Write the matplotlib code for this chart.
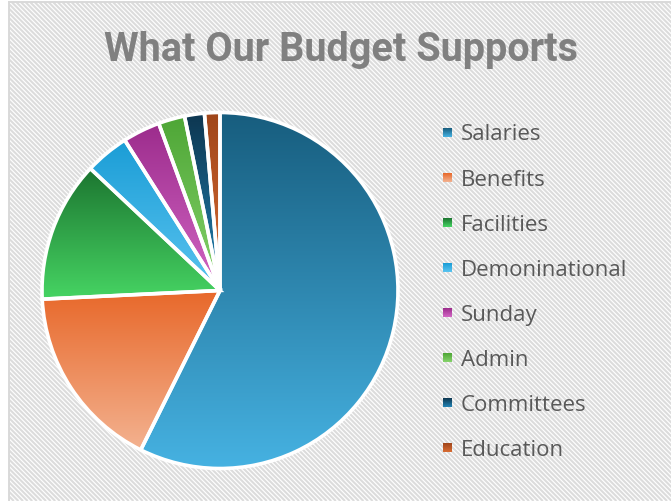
import numpy as np
import matplotlib
matplotlib.use("Agg")
import matplotlib.pyplot as plt
from matplotlib.collections import LineCollection
from matplotlib.patches import Rectangle
from matplotlib.colors import LinearSegmentedColormap

categories = ["Salaries", "Benefits", "Facilities", "Demoninational",
              "Sunday", "Admin", "Committees", "Education"]
values = [57.4, 16.9, 12.8, 4.0, 3.4, 2.4, 1.8, 1.4]
top_colors = ["#175d7e", "#e8682a", "#1c7530", "#1b9dd6", "#9c2c8c", "#4ea636", "#0d3650", "#a0461a"]
bottom_colors = ["#46b2e2", "#f3b290", "#46d463", "#5ac4f0", "#d266c4", "#86d36c", "#2284b5", "#d86c34"]
title = "What Our Budget Supports"

W, H, DPI = 671, 502, 100
fig = plt.figure(figsize=(W / DPI, H / DPI), dpi=DPI)
fig.patch.set_facecolor("white")

# background hatched frame
bg = fig.add_axes([0, 0, 1, 1])
bg.set_xlim(0, W)
bg.set_ylim(H, 0)
bg.axis("off")
x0f, y0f = 9, 3
segs = []
period = 4.6
c = -H
while c < W:
    ya, yb = y0f, H
    segs.append([(ya + c, ya), (yb + c, yb)])
    c += period
lc = LineCollection(segs, colors="#dcdcdc", linewidths=1.5)
bg.add_collection(lc)
clip = Rectangle((x0f, y0f), W - x0f + 5, H, transform=bg.transData, visible=False)
bg.add_patch(clip)
lc.set_clip_path(clip)
bg.plot([x0f, x0f], [y0f, H], color="#d9d9d9", lw=1.4)
bg.plot([x0f, W], [y0f, y0f], color="#d9d9d9", lw=1.4)

# pie
cx, cy, R = 220, 291.5, 178
ax = fig.add_axes([(cx - R * 1.02) / W, (H - cy - R * 1.02) / H, 2.04 * R / W, 2.04 * R / H])
wedges, _ = ax.pie(values, startangle=90, counterclock=False, radius=1,
                   wedgeprops=dict(edgecolor="white", linewidth=2.6))
ax.set_aspect("auto")
ax.axis("off")

for w, tc, bc in zip(wedges, top_colors, bottom_colors):
    ext = w.get_path().get_extents()
    cmap = LinearSegmentedColormap.from_list("g", [bc, tc])
    grad = np.linspace(0, 1, 256).reshape(-1, 1)
    im = ax.imshow(grad, cmap=cmap, origin="lower", aspect="auto",
                   extent=[ext.x0, ext.x1, ext.y0, ext.y1], zorder=1,
                   interpolation="bilinear")
    im.set_clip_path(w)
    w.set_facecolor("none")
    w.set_zorder(3)
ax.set_xlim(-1.02, 1.02)
ax.set_ylim(-1.02, 1.02)

# title
fig.text(341 / W, 1 - 50 / H, title, ha="center", va="center",
         fontsize=28.5, fontweight="bold", color="#808080",
         family=["Roboto", "DejaVu Sans"])

# legend
for i, (cat, tc, bc) in enumerate(zip(categories, top_colors, bottom_colors)):
    y = 133 + i * 45.1
    sq = 9
    lax = fig.add_axes([443 / W, 1 - (y + sq / 2) / H, sq / W, sq / H])
    lax.imshow(np.linspace(0, 1, 32).reshape(-1, 1),
               cmap=LinearSegmentedColormap.from_list("g", [tc, bc]),
               aspect="auto", extent=[0, 1, 0, 1], origin="upper")
    lax.axis("off")
    fig.text(461 / W, 1 - (y + 2) / H, cat, ha="left", va="center",
             fontsize=16, color="#595959", family=["Open Sans", "DejaVu Sans"])

fig.savefig("out.png", dpi=DPI)
